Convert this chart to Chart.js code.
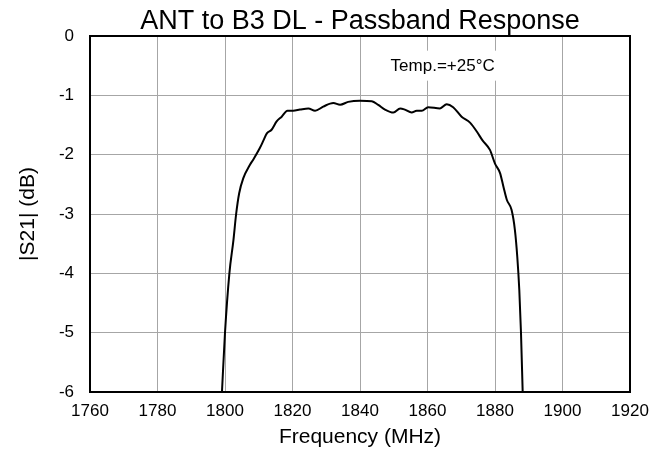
<!DOCTYPE html>
<html>
<head>
<meta charset="utf-8">
<script src="https://cdn.jsdelivr.net/npm/chart.js@4/dist/chart.umd.min.js"></script>
<style>
html,body{margin:0;padding:0;background:#fff;}
#wrap{width:665px;height:454px;}
</style>
</head>
<body>
<div id="wrap"><canvas id="c" width="665" height="454"></canvas></div>
<script>
const chartTitle = "ANT to B3 DL - Passband Response";
const xAxisTitle = "Frequency (MHz)";
const yAxisTitle = "|S21| (dB)";
const noteText = "Temp.=+25°C";

const freqMHz = [1799.1,1800.0,1801.3,1802.5,1803.3,1804.2,1805.4,1807.4,1808.4,1810.4,1811.4,1812.4,1813.8,1815.3,1816.8,1818.5,1820.2,1822.2,1824.7,1826.7,1829.1,1832.1,1834.1,1836.5,1840.0,1843.5,1845.4,1847.4,1849.9,1851.9,1853.3,1855.3,1856.8,1858.3,1860.2,1863.7,1865.7,1867.6,1870.1,1872.6,1874.6,1876.3,1878.5,1880.0,1881.5,1882.5,1883.5,1884.9,1885.9,1886.6,1887.2,1887.7,1888.2];
const s21dB = [-6.0,-5.0,-4.0,-3.44,-3.0,-2.65,-2.40,-2.17,-2.08,-1.88,-1.76,-1.64,-1.58,-1.44,-1.36,-1.26,-1.26,-1.24,-1.22,-1.26,-1.19,-1.13,-1.16,-1.11,-1.09,-1.10,-1.16,-1.24,-1.29,-1.22,-1.24,-1.29,-1.26,-1.26,-1.20,-1.22,-1.15,-1.20,-1.36,-1.46,-1.61,-1.76,-1.92,-2.15,-2.31,-2.54,-2.76,-2.93,-3.27,-3.72,-4.28,-5.0,-6.0];

const xTickValues = [1760,1780,1800,1820,1840,1860,1880,1900,1920];
const yTickValues = [0,-1,-2,-3,-4,-5,-6];

const FONT = "'Liberation Sans', Arial, Helvetica, sans-serif";

const points = freqMHz.map((f, i) => ({x: f, y: s21dB[i]}));

const framePlugin = {
  id: 'frame',
  beforeDatasetsDraw(chart) {
    const ctx = chart.ctx;
    const xs = chart.scales.x, ys = chart.scales.y;
    const cx = xs.getPixelForValue(1864.5);
    const cy = ys.getPixelForValue(-0.5);
    ctx.save();
    ctx.font = "17px " + FONT;
    const w = ctx.measureText(noteText).width;
    ctx.fillStyle = '#fff';
    ctx.fillRect(cx - w/2 - 6, cy - 15, w + 12, 30);
    ctx.fillStyle = '#000';
    ctx.textAlign = 'center';
    ctx.textBaseline = 'middle';
    ctx.fillText(noteText, cx, cy + 1);
    ctx.restore();
  },
  afterDraw(chart) {
    const ctx = chart.ctx;
    const a = chart.chartArea;
    ctx.save();
    ctx.strokeStyle = '#000';
    ctx.lineWidth = 2;
    ctx.strokeRect(a.left, a.top, a.right - a.left, a.bottom - a.top);
    ctx.fillStyle = '#000';
    ctx.font = "27px " + FONT;
    ctx.textAlign = 'center';
    ctx.textBaseline = 'alphabetic';
    ctx.fillText(chartTitle, (a.left + a.right) / 2, 29);
    ctx.restore();
  }
};

new Chart(document.getElementById('c'), {
  type: 'line',
  data: {
    datasets: [{
      data: points,
      borderColor: '#000',
      borderWidth: 2,
      pointRadius: 0,
      fill: false,
      cubicInterpolationMode: 'monotone'
    }]
  },
  options: {
    responsive: false,
    animation: false,
    devicePixelRatio: 1,
    layout: {padding: {left: 0, right: 35, top: 36, bottom: 0}},
    plugins: {legend: {display: false}, tooltip: {enabled: false}, title: {display: false}},
    scales: {
      x: {
        type: 'linear', min: xTickValues[0], max: xTickValues[xTickValues.length - 1],
        afterBuildTicks(s) { s.ticks = xTickValues.map(v => ({value: v})); },
        ticks: {color: '#000', font: {family: FONT, size: 17}, padding: 9, maxRotation: 0, autoSkip: false,
                callback: v => String(v)},
        grid: {color: '#a6a6a6', lineWidth: 1, drawTicks: false},
        border: {display: false},
        title: {display: true, text: xAxisTitle, color: '#000', font: {family: FONT, size: 21}, padding: {top: 0, bottom: 4}},
        afterFit(s) { s.height = 62; }
      },
      y: {
        type: 'linear', min: yTickValues[yTickValues.length - 1], max: yTickValues[0],
        afterBuildTicks(s) { s.ticks = yTickValues.slice().reverse().map(v => ({value: v})); },
        ticks: {color: '#000', font: {family: FONT, size: 17}, padding: 16, autoSkip: false,
                callback: v => String(v)},
        grid: {color: '#a6a6a6', lineWidth: 1, drawTicks: false},
        border: {display: false},
        title: {display: true, text: yAxisTitle, color: '#000', font: {family: FONT, size: 21}, padding: {top: 16, bottom: 0}},
        afterFit(s) { s.width = 90; }
      }
    }
  },
  plugins: [framePlugin]
});
</script>
</body>
</html>
